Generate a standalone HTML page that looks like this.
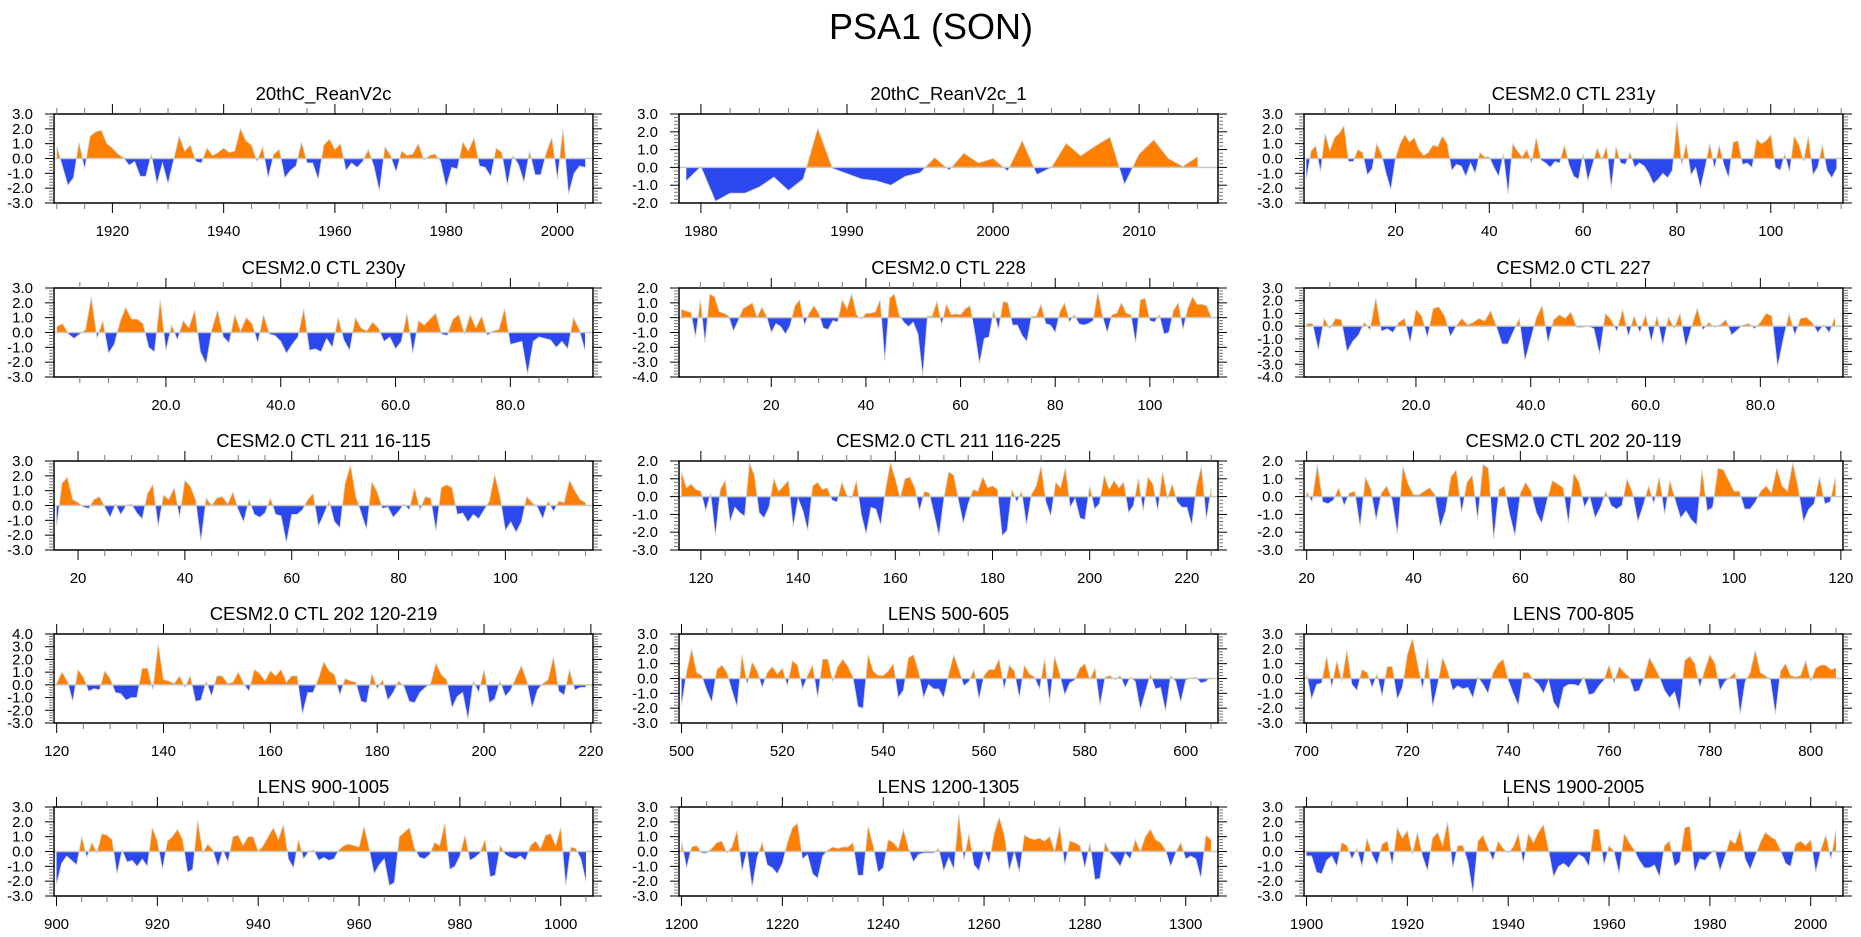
<!DOCTYPE html>
<html><head><meta charset="utf-8"><title>PSA1 (SON)</title>
<style>
html,body{margin:0;padding:0;background:#fff;}
svg{display:block;font-family:"Liberation Sans",Arial,sans-serif;}
</style></head>
<body>
<svg id="fig" width="1861" height="937" viewBox="0 0 1861 937" xmlns="http://www.w3.org/2000/svg">
<text x="931" y="39" text-anchor="middle" font-size="36" fill="#000">PSA1 (SON)</text>
</svg>
<script>
// ---- data ----
const titles = ["20thC_ReanV2c","20thC_ReanV2c_1","CESM2.0 CTL 231y","CESM2.0 CTL 230y","CESM2.0 CTL 228","CESM2.0 CTL 227","CESM2.0 CTL 211 16-115","CESM2.0 CTL 211 116-225","CESM2.0 CTL 202 20-119","CESM2.0 CTL 202 120-219","LENS 500-605","LENS 700-805","LENS 900-1005","LENS 1200-1305","LENS 1900-2005"];
const startYears = [1910,1979,1,1,1,1,16,116,20,120,500,700,900,1200,1900];
const yMins = [-3,-2,-3,-3,-4,-4,-3,-3,-3,-3,-3,-3,-3,-3,-3];
const yMaxs = [3,3,3,3,2,3,3,2,2,4,3,3,3,3,3];
const xMajorSteps = [20,10,20,20,20,20,20,20,20,20,20,20,20,20,20];
const xMinorSteps = [5,2,5,5,5,5,5,5,5,5,5,5,5,5,5];
const xDecimals = [0,0,0,1,0,1,0,0,0,0,0,0,0,0,0];

const v1=[0.8,-0.5,-1.8,-1.3,1.1,-0.7,1.5,1.8,1.9,1.0,0.7,0.3,0.05,-0.45,-0.2,-1.2,-1.2,0.3,-1.7,-0.3,-1.7,-0.1,1.5,0.5,0.9,-0.2,-0.3,0.7,0.2,0.4,0.7,0.4,0.5,2.0,1.2,0.9,-0.2,0.8,-1.3,0.3,0.6,-1.3,-0.8,-0.5,1.1,-0.3,-0.3,-1.4,0.9,1.3,0.6,1.0,-0.8,-0.3,-0.6,-0.2,0.6,-0.5,-2.2,0.8,0.2,-0.9,0.5,0.2,0.3,1.0,-0.1,0.2,0.3,-0.2,-1.9,-0.6,-0.7,1.1,0.5,1.4,-0.5,-0.6,-1.2,0.7,0.4,-1.8,0.2,-0.4,-1.6,0.5,-1.1,-1.1,0.4,1.4,-1.4,2.0,-2.4,-1.0,-0.5,-0.6];
const v2=[-0.75,0.05,-1.9,-1.45,-1.45,-1.1,-0.55,-1.3,-0.65,2.2,-0.05,-0.35,-0.65,-0.75,-1.0,-0.5,-0.3,0.55,-0.15,0.8,0.25,0.5,-0.2,1.5,-0.4,0.0,1.35,0.65,1.2,1.7,-0.95,0.75,1.55,0.5,0.05,0.6];
const v3=[-1.4,0.5,0.85,-0.9,1.7,0.5,1.4,1.7,2.2,-0.2,-0.2,0.6,0.4,-1.1,-0.7,1.0,0.3,-1.0,-2.1,0.0,1.0,1.6,1.1,1.4,0.6,0.2,0.4,0.9,0.8,1.5,1.0,-0.8,-0.4,-0.5,-1.2,-0.3,-1.0,0.4,0.1,0.1,-0.6,-1.2,0.3,-2.4,1.0,0.5,0.1,0.6,-0.3,1.4,-0.1,-0.3,-0.6,-0.2,-0.3,0.9,-0.4,-1.2,-1.4,0.3,-1.5,-0.4,0.7,-0.1,0.8,-2.0,0.8,-0.3,-0.4,0.4,-0.6,-0.3,-0.5,-1.0,-1.7,-1.4,-1.0,-1.3,-0.8,2.5,-0.4,1.0,-1.1,-0.6,-2.0,-0.6,1.0,-0.7,0.9,-0.4,-1.3,1.1,1.2,-0.4,-0.3,-0.6,1.3,1.0,1.2,1.6,-0.6,-0.8,0.3,-0.9,1.5,0.9,-0.2,1.5,-1.1,-0.6,0.9,-0.8,-1.3,-0.7];
const v4=[0.4,0.6,-0.1,-0.4,-0.1,0.2,2.4,-0.4,0.8,-1.4,-0.8,0.7,1.7,0.9,0.9,0.6,-1.0,-1.3,2.2,-1.2,0.5,-0.5,0.8,0.3,1.5,-1.3,-2.1,0.2,1.5,-0.3,-0.7,1.2,0.1,1.0,0.6,-0.7,1.2,-0.1,-0.2,-0.6,-1.4,-0.8,-0.3,1.6,-1.2,-1.1,-1.3,-0.4,-1.0,1.0,-0.5,-1.2,1.0,0.3,0.1,0.7,0.3,-0.6,-0.3,-1.1,-0.6,1.3,-1.4,0.8,0.5,0.9,1.3,-0.1,-0.2,0.9,1.2,-0.1,1.2,0.3,1.1,-0.2,0.1,0.2,1.6,-0.8,-0.7,-0.6,-2.8,-0.6,-0.3,-0.4,-0.5,-1.0,-0.6,-1.1,1.0,0.2,-1.2];
const v5=[0.55,0.45,0.35,-1.3,1.2,-1.7,1.6,1.4,0.4,0.3,0.1,-0.9,-0.2,0.6,0.8,1.0,0.0,0.7,0.1,-1.0,-0.4,-0.6,-1.1,-0.5,0.8,1.2,-0.5,0.3,0.8,0.3,-0.7,-0.8,-0.2,-0.3,1.2,0.6,1.6,0.2,-0.1,0.3,0.3,0.4,1.2,-2.9,1.3,1.6,0.2,-0.3,-0.6,-0.3,-1.1,-3.9,0.1,0.1,1.1,-0.5,0.9,0.2,0.25,0.2,0.6,0.8,-1.0,-3.1,-1.4,-1.3,0.5,-0.8,1.1,1.0,-0.5,-0.5,-1.2,-1.6,0.1,0.1,0.9,-0.4,-0.5,-1.0,0.4,1.0,-0.3,0.2,-0.4,-0.5,-0.4,-0.2,1.7,0.1,-1.0,0.2,0.3,1.0,0.3,0.2,-1.7,1.2,1.3,-0.2,-0.3,0.2,-1.1,-1.0,0.5,1.0,-0.8,0.6,1.4,0.9,0.9,0.8,0.0];
const v6=[0.2,0.2,-1.9,0.6,-0.2,0.6,0.5,-2.0,-1.2,-0.7,0.3,-0.3,2.2,-0.4,-0.2,-0.5,0.3,0.6,-1.3,1.3,0.8,-0.9,1.4,1.5,0.8,-0.8,0.0,0.6,0.1,0.3,0.6,0.4,1.2,0.0,-1.4,-1.4,-0.4,0.6,-2.7,-1.0,0.7,1.6,-1.3,0.5,0.9,0.6,1.1,-0.1,-0.1,0.0,-0.2,-2.2,1.0,0.5,-0.4,1.3,-0.8,0.8,-0.5,0.9,-1.2,0.8,-1.5,0.7,-0.2,1.0,-1.6,-0.1,1.4,-0.3,0.3,-0.1,0.1,0.5,-0.7,-0.3,0.1,0.2,-0.2,0.3,1.0,0.8,-3.2,-1.0,1.0,-0.7,0.6,0.7,0.3,-0.5,0.1,-0.5,0.7];
const v7=[-1.4,1.5,1.9,0.4,0.2,-0.1,-0.2,0.4,0.6,-0.1,-0.8,0.1,-0.6,0.0,0.1,-0.5,-0.9,0.8,1.4,-1.4,0.7,0.4,1.2,-0.8,1.7,1.3,0.4,-2.4,0.5,0.0,0.5,0.6,0.1,0.9,-0.3,-1.1,0.4,-0.6,-0.8,-0.5,0.5,-0.6,-0.7,-2.5,-0.6,-0.6,-0.3,0.4,0.8,-1.4,-0.6,0.3,-1.1,-1.5,1.5,2.7,0.6,-0.5,-1.6,1.6,0.9,-0.2,-0.1,-0.8,-0.4,0.1,-0.3,1.2,-0.3,0.6,0.5,-1.7,1.2,1.4,1.2,-0.6,-0.5,-1.1,-0.6,-0.9,-0.3,0.3,2.1,0.6,-1.7,-1.1,-1.8,-1.1,0.6,0.2,-0.1,-0.9,0.3,-0.4,0.3,0.2,1.7,1.0,0.4,0.2];
const v8=[1.4,0.5,0.7,0.4,0.3,-0.8,0.2,-2.2,0.4,0.9,-1.4,-0.6,-0.9,-1.1,1.9,1.2,-0.9,-1.2,-0.6,1.0,0.3,0.6,0.9,-1.7,-0.1,-0.8,-1.9,0.6,0.8,0.4,0.5,-0.2,-0.3,0.8,0.1,-0.1,0.9,-1.0,-2.1,-0.6,-0.7,-1.6,0.4,1.9,1.0,-0.1,1.0,1.1,0.5,-0.8,0.3,0.2,-1.0,-2.2,-0.1,1.4,1.2,-0.2,-1.5,-0.4,0.4,0.3,1.1,0.5,0.6,0.4,-2.2,-1.9,0.4,-0.3,0.3,-1.6,0.1,0.6,1.7,-0.3,-1.1,0.8,0.5,1.6,-0.6,-0.1,-1.2,-1.3,0.6,-0.7,-0.4,1.2,0.4,0.9,0.5,0.8,-0.9,-0.5,1.0,-0.8,1.1,0.7,-0.8,1.4,-0.1,0.7,-0.3,-0.6,-0.6,-1.6,0.6,1.7,-1.3,0.5];
const v9=[0.3,-0.3,1.8,-0.3,-0.4,-0.2,0.5,-0.5,0.2,0.3,-1.7,1.1,0.4,-1.3,0.2,0.6,-0.2,-2.1,1.7,0.7,0.1,0.1,0.3,0.5,0.1,-1.7,-0.8,1.1,1.5,-0.9,0.8,1.2,-1.3,1.8,1.6,-2.4,0.4,0.6,-1.0,-2.2,0.2,0.8,0.3,-0.9,-1.5,-0.2,0.9,0.7,0.5,-1.5,1.3,0.8,-0.6,0.0,-1.2,-0.6,0.3,-0.5,-0.7,-0.5,1.0,0.2,-1.4,-0.5,0.6,-0.4,1.1,-1.0,0.9,-0.2,-1.2,-0.8,-1.3,-1.6,1.5,-0.8,-0.6,1.6,1.5,0.9,0.3,0.3,-0.7,-0.7,-0.3,0.3,0.6,0.2,1.6,0.6,0.3,1.9,0.5,-1.4,-0.7,-0.4,1.1,-0.4,-0.3,1.1];
const v10=[0.1,1.0,0.3,-1.3,1.2,0.6,-0.5,-0.3,-0.4,1.1,0.5,-0.6,-0.7,-1.2,-1.0,-1.0,1.3,1.3,-0.4,3.2,0.4,0.3,0.1,0.7,-0.2,0.7,-1.3,-1.2,0.3,-0.9,0.7,0.7,0.1,0.2,1.0,0.1,-0.5,1.2,0.9,0.3,1.1,0.7,1.2,0.2,0.7,0.7,-2.3,-0.6,-0.6,0.5,1.8,1.1,0.8,-0.8,0.5,0.3,0.2,-1.3,-1.4,0.9,-0.3,0.4,-1.2,-0.6,0.3,-0.1,-1.3,-1.4,-0.6,-0.2,0.1,1.7,0.8,0.4,-1.8,-0.9,-0.6,-2.7,0.3,-0.6,1.2,-1.4,-1.1,0.3,-0.9,-0.4,0.6,1.5,0.3,-1.8,-0.4,0.1,0.4,2.2,-0.5,-0.8,1.2,-0.4,-0.2,-0.2];
const v11=[-1.8,0.4,2.0,0.4,0.2,-0.8,-1.6,0.6,0.9,0.4,-0.8,-1.9,1.6,-0.4,1.1,0.5,-0.6,0.4,0.8,0.3,0.7,-0.5,1.2,0.9,-0.7,0.2,0.9,-1.3,1.3,1.3,-0.2,0.8,1.3,0.8,0.1,-1.9,-2.0,1.6,0.5,0.2,0.2,0.5,1.0,-1.3,-0.8,1.4,1.6,0.5,-1.3,-0.4,-0.7,-0.7,-1.3,0.3,1.6,0.6,-0.5,-0.2,0.6,-1.4,0.2,0.6,0.6,1.3,-0.7,0.9,0.5,-1.3,0.9,0.3,0.1,-0.7,1.3,-1.6,1.5,0.3,-1.1,-0.3,-0.1,0.7,1.0,-0.1,0.7,-1.8,0.1,0.2,-0.1,0.2,-0.6,0.1,-0.2,-2.1,-0.9,0.3,-0.7,-0.6,-2.2,0.2,-0.2,-1.6,-0.1,0.0,0.1,-0.3,-0.2,0.1];
const v12=[0.4,-1.4,-0.4,-0.3,1.5,-0.6,1.2,-0.2,1.9,-0.4,-0.8,0.6,0.4,-0.6,0.3,-1.2,0.8,0.8,-1.4,-0.6,1.6,2.7,1.0,-0.7,1.4,-1.9,-0.4,1.4,0.5,-0.8,-0.5,-0.7,-0.6,-1.3,0.1,-0.4,-1.0,0.4,1.0,1.3,-0.1,-1.0,-1.8,0.4,0.4,-0.1,-0.4,-1.0,-0.1,-1.6,-2.1,-0.6,-0.4,-0.4,-0.5,0.1,-1.1,-1.0,-0.5,-0.1,0.9,-0.3,0.8,0.4,0.1,-0.9,-0.8,0.1,1.4,0.8,0.1,-0.8,-1.3,-0.9,-2.2,1.2,1.5,1.0,-0.6,0.6,1.6,1.0,-0.8,-0.2,0.1,0.4,-2.4,-0.2,0.4,1.9,0.4,0.2,-0.1,-2.4,0.5,1.0,0.2,0.1,0.2,1.2,-0.2,0.7,0.9,0.9,0.6,0.7];
const v13=[-2.2,-0.8,-0.3,-0.6,-0.9,1.0,-0.4,0.6,-0.1,1.2,1.1,0.8,-1.5,0.1,-0.7,-0.6,-1.0,-0.5,-1.0,1.6,0.7,-1.2,0.7,1.0,1.5,0.8,-1.4,-1.2,2.1,-0.1,0.5,0.1,-1.0,0.1,-0.7,1.0,1.1,0.4,1.0,1.0,0.0,0.4,1.0,1.6,0.8,1.8,-0.5,-1.1,0.8,-0.5,0.0,0.1,-0.6,-0.4,-0.6,-0.5,0.1,0.4,0.5,0.4,0.3,1.7,0.2,-1.5,-0.9,-0.5,-2.3,-2.1,1.0,1.3,1.6,0.2,-0.4,-0.5,-0.2,0.6,0.4,1.9,-1.2,-1.0,-0.3,1.1,-0.6,-0.4,-0.1,0.8,-1.7,-1.6,0.4,-0.2,-0.4,-0.5,-0.3,-0.6,0.4,0.7,0.2,1.1,1.2,0.4,1.6,-2.3,0.3,0.2,-0.5,-2.0];
const v14=[0.7,-1.1,0.3,0.4,-0.1,-0.1,0.2,0.6,0.7,-0.1,0.3,1.4,-1.3,0.1,-2.4,-0.4,0.6,-0.9,-1.1,-1.5,-0.8,0.6,1.6,1.9,-0.5,-0.2,-1.5,-1.8,-0.3,0.1,0.3,0.2,0.3,0.3,0.6,-1.6,-1.6,1.7,0.4,-1.4,-1.1,0.8,0.6,0.2,1.5,0.2,-0.7,-0.2,-0.1,-0.1,-0.1,0.2,-1.3,-0.4,-1.2,2.5,-0.6,1.2,-0.9,-1.3,0.1,-0.8,1.2,2.3,1.1,-1.3,0.0,-1.4,1.1,0.9,0.8,0.9,0.7,1.0,0.0,1.7,-0.9,0.7,0.6,0.4,-1.1,0.6,-1.9,-1.8,0.6,-0.1,-0.5,-1.0,-0.1,-0.5,0.8,0.0,1.0,1.5,0.8,0.6,0.1,-1.0,-0.1,0.6,-0.5,-0.3,-0.5,-1.8,1.1,0.8];
const v15=[-0.3,-0.3,-1.4,-1.5,-0.6,-0.3,-1.0,0.6,0.4,-0.5,0.2,-1.0,0.9,-0.2,-0.9,0.5,0.7,-0.9,1.6,0.9,1.4,-0.2,1.3,-0.3,-1.3,0.9,1.3,0.4,2.0,-1.1,0.4,0.4,-0.7,-2.8,0.7,1.1,0.2,-0.6,0.7,0.2,-0.1,0.3,1.2,-0.8,1.2,0.6,1.3,1.8,0.1,-1.7,-1.0,-0.8,-1.1,-0.6,-0.2,-0.4,-1.0,1.5,1.5,-0.9,0.4,0.0,-1.5,1.2,0.6,0.1,-0.6,-1.1,-1.1,-0.9,-1.7,0.4,0.7,-1.0,-0.7,1.6,1.7,-1.4,-0.5,-0.6,-0.2,0.1,-1.3,-0.3,0.8,0.5,1.5,-0.5,-1.2,-0.3,0.6,1.3,1.0,0.8,0.1,-0.8,-1.0,0.5,0.7,0.4,0.8,-1.4,0.1,1.1,-0.5,1.4];
const series = [v1,v2,v3,v4,v5,v6,v7,v8,v9,v10,v11,v12,v13,v14,v15];

// ---- layout (not data) ----
const colLeft = [54, 679, 1304];
const rowTop = [114, 288, 461, 634, 807];
const PW = 539, PH = 89;
const NS = "http://www.w3.org/2000/svg";
const svg = document.getElementById('fig');
const ORANGE = "#ff8000", BLUE = "#2b47ee";

function mk(tag, attrs, parent){
  const e = document.createElementNS(NS, tag);
  for (const k in attrs) e.setAttribute(k, attrs[k]);
  (parent||svg).appendChild(e);
  return e;
}

series.forEach(function(vals, i){
  const L = colLeft[i % 3], T = rowTop[Math.floor(i / 3)];
  const s0 = startYears[i], s1 = s0 + vals.length - 1;
  const xmin = s0 - 0.5, xmax = s1 + 1.4;
  const ymin = yMins[i], ymax = yMaxs[i];
  const xs = function(v){ return L + (v - xmin) / (xmax - xmin) * PW; };
  const ys = function(v){ return T + (ymax - v) / (ymax - ymin) * PH; };

  const g = mk('g', {});
  
  

  const t = mk('text', {x: L + PW / 2, y: T - 14, 'text-anchor': 'middle', 'font-size': 18.5, fill: '#000'}, g);
  t.textContent = titles[i];
  
  

  const defs = mk('defs', {}, g);
  const cpA = mk('clipPath', {id: 'ca' + i}, defs);
  mk('rect', {x: L, y: T, width: PW, height: ys(0) - T}, cpA);
  const cpB = mk('clipPath', {id: 'cb' + i}, defs);
  mk('rect', {x: L, y: ys(0), width: PW, height: T + PH - ys(0)}, cpB);

  let d = 'M' + xs(s0).toFixed(2) + ',' + ys(0).toFixed(2);
  let line = '';
  vals.forEach(function(v, k){
    const px = xs(s0 + k).toFixed(2), py = ys(v).toFixed(2);
    d += ' L' + px + ',' + py;
    line += (k ? ' L' : 'M') + px + ',' + py;
  });
  d += ' L' + xs(s1).toFixed(2) + ',' + ys(0).toFixed(2) + ' Z';

  const pos = mk('path', {d: d, fill: ORANGE, 'clip-path': 'url(#ca' + i + ')'}, g);
  
  
  const neg = mk('path', {d: d, fill: BLUE, 'clip-path': 'url(#cb' + i + ')'}, g);
  
  
  const zl = mk('line', {x1: L, x2: L + PW, y1: ys(0), y2: ys(0), stroke: '#c8c8c8', 'stroke-width': 1.5}, g);
  
  
  const ln = mk('path', {d: line, fill: 'none', stroke: '#d0d0d0', 'stroke-width': 0.8}, g);
  
  

  const fr = mk('rect', {x: L, y: T, width: PW, height: PH, fill: 'none', stroke: '#000', 'stroke-width': 1.5}, g);
  
  

  const ny = Math.round((ymax - ymin) / 0.2);
  for (let k = 0; k <= ny; k++){
    const v = ymin + k * 0.2;
    const major = (k % 5 === 0);
    const len = major ? 9 : 5;
    const yy = ys(v);
    mk('line', {x1: L - len, x2: L, y1: yy, y2: yy, stroke: major ? '#000' : '#777', 'stroke-width': 1}, g);
    mk('line', {x1: L + PW, x2: L + PW + len, y1: yy, y2: yy, stroke: major ? '#000' : '#777', 'stroke-width': 1}, g);
    if (major){
      const lb = mk('text', {x: L - 21, y: yy + 5, 'text-anchor': 'end', 'font-size': 15, fill: '#000'}, g);
      lb.textContent = Math.round(v).toFixed(1);
      
      
    }
  }
  const mn = xMinorSteps[i], mj = xMajorSteps[i];
  for (let v = Math.ceil(xmin / mn) * mn; v <= xmax; v += mn){
    const major = (v % mj === 0);
    const len = major ? 10 : 6;
    const xx = xs(v);
    mk('line', {x1: xx, x2: xx, y1: T - len, y2: T, stroke: major ? '#000' : '#777', 'stroke-width': 1}, g);
    mk('line', {x1: xx, x2: xx, y1: T + PH, y2: T + PH + len, stroke: major ? '#000' : '#777', 'stroke-width': 1}, g);
    if (major){
      const lb = mk('text', {x: xx, y: T + PH + 33, 'text-anchor': 'middle', 'font-size': 15, fill: '#000'}, g);
      lb.textContent = v.toFixed(xDecimals[i]);
      
      
    }
  }
});
</script>
</body></html>
